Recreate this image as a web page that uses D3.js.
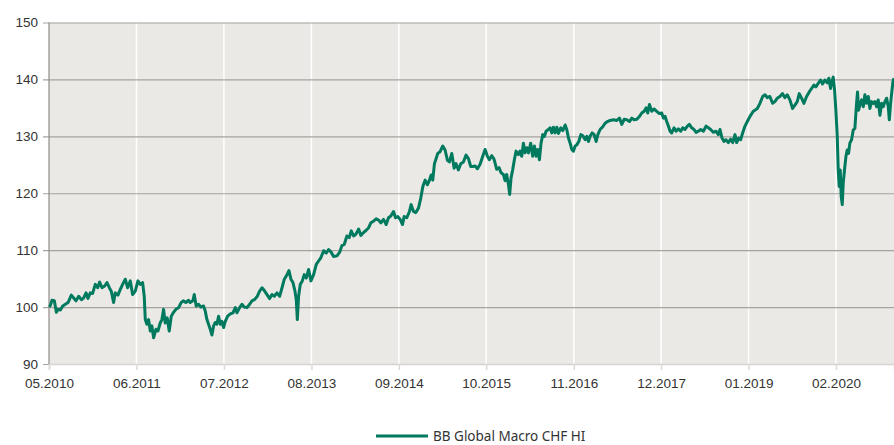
<!DOCTYPE html>
<html>
<head>
<meta charset="utf-8">
<script src="https://cdn.jsdelivr.net/npm/d3@7"></script>
<style>
  body { margin: 0; background: #fff; }
  svg { display: block; font-family: "Noto Sans", sans-serif; }
</style>
</head>
<body>
<svg id="chart" width="894" height="445"></svg>
<script>
// series: time as decimal year, index value
const times = [
  2010.333, 2010.346, 2010.366, 2010.395, 2010.420, 2010.441, 2010.470, 2010.499, 2010.532, 2010.565,
  2010.606, 2010.635, 2010.664, 2010.697, 2010.730, 2010.759, 2010.788, 2010.812, 2010.841, 2010.870,
  2010.903, 2010.932, 2010.957, 2010.986, 2011.019, 2011.048, 2011.077, 2011.101, 2011.130, 2011.151,
  2011.184, 2011.213, 2011.242, 2011.275, 2011.304, 2011.337, 2011.366, 2011.399, 2011.432, 2011.461,
  2011.490, 2011.510, 2011.523, 2011.543, 2011.564, 2011.585, 2011.605, 2011.626, 2011.655, 2011.680,
  2011.708, 2011.729, 2011.750, 2011.770, 2011.795, 2011.820, 2011.845, 2011.874, 2011.903, 2011.936,
  2011.969, 2011.998, 2012.026, 2012.060,
  2012.080, 2012.113, 2012.130, 2012.154, 2012.183, 2012.212, 2012.245, 2012.266, 2012.287, 2012.307,
  2012.328, 2012.349, 2012.369, 2012.390, 2012.410, 2012.431, 2012.452, 2012.472, 2012.493, 2012.514,
  2012.543, 2012.576, 2012.609, 2012.638, 2012.658, 2012.691, 2012.720, 2012.749, 2012.782, 2012.815,
  2012.844, 2012.873, 2012.906, 2012.939, 2012.968, 2012.997, 2013.030, 2013.063, 2013.092, 2013.121,
  2013.154, 2013.187, 2013.216, 2013.245, 2013.278, 2013.302, 2013.327, 2013.352, 2013.377, 2013.393,
  2013.406, 2013.422, 2013.443, 2013.468, 2013.492, 2013.517, 2013.546, 2013.575, 2013.608, 2013.641,
  2013.670, 2013.699, 2013.732, 2013.765, 2013.794, 2013.823, 2013.856,
  2013.897, 2013.930, 2013.959, 2013.988, 2014.021, 2014.050, 2014.075, 2014.104, 2014.132, 2014.166,
  2014.194, 2014.227, 2014.260, 2014.289, 2014.318, 2014.351, 2014.384, 2014.413, 2014.442, 2014.475,
  2014.508, 2014.537, 2014.566, 2014.599, 2014.624, 2014.653, 2014.682, 2014.711, 2014.731, 2014.764,
  2014.797, 2014.818, 2014.847, 2014.876, 2014.909, 2014.938, 2014.963, 2014.991, 2015.020, 2015.045,
  2015.066, 2015.086, 2015.107, 2015.128, 2015.148, 2015.177, 2015.210, 2015.239, 2015.268, 2015.293,
  2015.322, 2015.351, 2015.375, 2015.404, 2015.433, 2015.466, 2015.499, 2015.528, 2015.557,
  2015.582, 2015.611, 2015.640, 2015.673, 2015.706, 2015.735, 2015.764, 2015.788, 2015.817, 2015.846,
  2015.879, 2015.908, 2015.933, 2015.962, 2015.983, 2016.003, 2016.024, 2016.040, 2016.057, 2016.078,
  2016.098, 2016.119, 2016.148, 2016.168, 2016.189, 2016.210, 2016.230, 2016.251, 2016.272, 2016.300,
  2016.325, 2016.346, 2016.367, 2016.387, 2016.408, 2016.428, 2016.449, 2016.470, 2016.490, 2016.519,
  2016.540, 2016.561, 2016.581, 2016.602, 2016.623, 2016.643, 2016.672, 2016.697, 2016.726, 2016.746,
  2016.767, 2016.788, 2016.808, 2016.829, 2016.850, 2016.870, 2016.895, 2016.920, 2016.945, 2016.974,
  2016.994, 2017.015, 2017.035, 2017.060, 2017.085, 2017.110, 2017.131, 2017.159, 2017.192, 2017.221,
  2017.250, 2017.283, 2017.325,
  2017.366, 2017.399, 2017.428, 2017.457, 2017.490, 2017.523, 2017.552, 2017.581, 2017.614, 2017.647,
  2017.676, 2017.705, 2017.729, 2017.750, 2017.771, 2017.800, 2017.828, 2017.861, 2017.894, 2017.923,
  2017.944, 2017.965, 2017.985, 2018.006, 2018.027, 2018.047, 2018.076, 2018.101, 2018.130, 2018.159,
  2018.184, 2018.212, 2018.241, 2018.266, 2018.295, 2018.324, 2018.349, 2018.378, 2018.407, 2018.440,
  2018.473, 2018.502, 2018.530, 2018.563, 2018.597, 2018.625, 2018.646, 2018.671, 2018.696, 2018.720,
  2018.749, 2018.778, 2018.803, 2018.832, 2018.853, 2018.877, 2018.902, 2018.927, 2018.956, 2018.985,
  2019.018, 2019.059,
  2019.080, 2019.109, 2019.142, 2019.175, 2019.204, 2019.232, 2019.265, 2019.298, 2019.327, 2019.356,
  2019.389, 2019.422, 2019.451, 2019.480, 2019.513, 2019.546, 2019.575, 2019.604, 2019.629, 2019.658,
  2019.687, 2019.720, 2019.753, 2019.782, 2019.811, 2019.835, 2019.864, 2019.893, 2019.918, 2019.947,
  2019.976, 2019.996, 2020.017, 2020.033, 2020.050, 2020.067, 2020.083, 2020.100, 2020.112, 2020.124,
  2020.137, 2020.149, 2020.162, 2020.174, 2020.190, 2020.207, 2020.223, 2020.240, 2020.256, 2020.277,
  2020.298, 2020.318, 2020.339, 2020.351, 2020.364, 2020.380, 2020.401, 2020.422, 2020.442, 2020.463,
  2020.484, 2020.504, 2020.525, 2020.545, 2020.566, 2020.587, 2020.607, 2020.628, 2020.649, 2020.669,
  2020.690, 2020.711, 2020.731, 2020.744, 2020.760, 2020.777, 2020.789, 2020.802
];
const values = [
  100.0, 100.3, 101.2, 101.1, 99.1, 99.6, 99.5, 100.2, 100.5, 100.8,
  102.1, 101.6, 101.1, 101.9, 101.3, 101.6, 102.5, 101.5, 102.5, 102.4,
  104.0, 103.4, 104.4, 103.4, 103.7, 104.3, 103.4, 102.8, 100.8, 102.5,
  102.1, 103.1, 104.0, 104.9, 103.4, 104.6, 102.2, 102.8, 104.6, 104.0,
  104.3, 101.9, 97.8, 97.0, 97.8, 95.8, 96.7, 94.6, 96.1, 95.8,
  97.2, 97.8, 99.6, 97.2, 98.1, 95.8, 98.4, 99.1, 99.6, 99.9,
  100.8, 101.1, 100.8, 101.2,
  100.8, 101.1, 102.2, 100.2, 100.5, 100.0, 100.2, 99.3, 97.8, 97.0,
  96.1, 95.1, 96.7, 97.3, 97.0, 98.4, 97.0, 97.5, 96.4, 97.5,
  98.4, 98.8, 99.0, 99.9, 99.0, 99.9, 100.5, 100.0, 99.9, 100.5,
  101.1, 101.3, 101.8, 102.8, 103.4, 102.9, 102.2, 101.5, 102.2, 101.9,
  102.5, 101.9, 103.4, 104.9, 105.7, 106.4, 104.9, 104.3, 102.8, 101.3,
  97.8, 101.9, 104.0, 104.6, 105.7, 105.1, 106.6, 104.6, 105.7, 107.5,
  108.1, 108.7, 109.9, 109.5, 110.1, 109.7, 108.9,
  109.0, 109.6, 110.8, 111.0, 112.5, 112.2, 113.4, 112.5, 112.8, 113.7,
  112.6, 113.1, 113.5, 113.9, 114.8, 115.1, 115.5, 115.3, 114.8, 115.4,
  114.5, 115.7, 116.0, 116.8, 115.7, 115.9, 115.4, 114.5, 115.9, 115.7,
  116.8, 118.0, 116.8, 116.6, 117.4, 119.2, 121.2, 122.3, 121.5, 122.3,
  123.2, 122.3, 125.2, 126.1, 127.0, 127.3, 128.3, 127.6, 125.8, 125.5,
  127.0, 124.4, 125.2, 124.1, 125.2, 125.5, 126.7, 126.1, 124.7,
  124.7, 124.8, 124.3, 125.1, 126.5, 127.7, 126.5, 125.9, 126.6, 126.0,
  124.2, 124.5, 123.6, 123.3, 122.2, 123.3, 121.6, 119.8, 122.7, 124.2,
  125.9, 127.4, 126.8, 127.4, 126.5, 128.8, 127.1, 128.0, 127.1, 128.8,
  126.5, 128.3, 126.5, 127.7, 125.9, 128.8, 130.3, 130.0, 130.9, 131.2,
  131.5, 130.6, 131.6, 130.6, 131.6, 130.5, 131.5, 131.0, 132.0, 131.2,
  129.7, 128.8, 127.7, 127.4, 128.3, 128.5, 129.1, 130.3, 130.1, 129.4,
  130.0, 129.1, 130.0, 130.6, 130.3, 129.1, 130.3, 131.2, 131.7, 132.3,
  132.6, 132.8, 132.9,
  132.8, 133.2, 132.1, 133.0, 132.9, 132.6, 133.2, 132.9, 133.0, 133.5,
  134.1, 134.4, 135.0, 134.1, 135.6, 134.4, 134.8, 134.4, 134.0, 134.1,
  133.2, 133.5, 132.6, 131.8, 130.9, 130.6, 131.5, 130.9, 131.3, 130.9,
  131.5, 131.2, 131.8, 132.1, 131.5, 131.2, 130.7, 130.9, 131.2, 130.9,
  131.8, 131.5, 131.2, 130.7, 130.9, 130.3, 131.2, 129.7, 129.1, 129.4,
  128.9, 129.5, 128.9, 130.3, 128.9, 129.7, 129.4, 130.6, 131.8, 132.6,
  133.5, 134.4,
  134.6, 134.9, 135.8, 137.0, 137.3, 136.8, 137.0, 135.8, 136.1, 136.7,
  137.0, 137.5, 136.8, 137.3, 136.4, 134.9, 135.5, 136.1, 137.5, 136.7,
  135.8, 137.0, 137.8, 138.4, 139.0, 138.7, 139.3, 139.9, 139.2, 139.9,
  139.4, 140.2, 138.4, 139.6, 140.4, 138.1, 134.6, 130.0, 124.1, 121.2,
  124.1, 119.4, 118.0, 121.8, 124.1, 126.4, 127.6, 127.0, 128.8, 129.4,
  131.1, 131.4, 135.8, 137.8, 134.6, 135.5, 136.4, 135.2, 137.3, 135.8,
  137.0, 134.9, 136.1, 135.8, 136.1, 135.2, 136.4, 133.7, 135.8, 135.2,
  136.1, 136.7, 135.2, 132.9, 135.8, 138.1, 139.6, 140.2
];
const xTickLabels = ["05.2010", "06.2011", "07.2012", "08.2013", "09.2014",
                     "10.2015", "11.2016", "12.2017", "01.2019", "02.2020"];
const yTicks = [90, 100, 110, 120, 130, 140, 150];
const seriesName = "BB Global Macro CHF HI";

const width = 894, height = 445;
const margin = {top: 22.5, right: 0, bottom: 81, left: 49};
const innerW = width - margin.left - margin.right;
const innerH = height - margin.top - margin.bottom;
const lineColor = "#007a5e";

function decToDate(t) {
  const y = Math.floor(t);
  const a = new Date(y, 0, 1), b = new Date(y + 1, 0, 1);
  return new Date(+a + (t - y) * (b - a));
}
const parseTick = d3.timeParse("%m.%Y");
const tickDates = xTickLabels.map(parseTick);
const data = times.map((t, i) => ({date: decToDate(t), value: values[i]}));

const svg = d3.select("#chart");
const g = svg.append("g").attr("transform", `translate(${margin.left},${margin.top})`);

const x = d3.scaleTime()
  .domain([tickDates[0], data[data.length - 1].date])
  .range([0, innerW]);
const y = d3.scaleLinear().domain([90, 150]).range([innerH, 0]);

// plot background
g.append("rect")
  .attr("width", innerW).attr("height", innerH)
  .attr("fill", "#ebe9e5");

// vertical white gridlines
g.append("g")
  .selectAll("line")
  .data(tickDates.slice(1))
  .join("line")
  .attr("x1", d => x(d)).attr("x2", d => x(d))
  .attr("y1", 0).attr("y2", innerH)
  .attr("stroke", "#fff").attr("stroke-width", 1.5);

// horizontal gridlines + y labels
const yAxis = g.append("g")
  .call(d3.axisLeft(y).tickValues(yTicks).tickSize(-innerW).tickPadding(11));
yAxis.select(".domain").remove();
yAxis.selectAll(".tick line")
  .attr("stroke", "#a5a39f").attr("stroke-width", 1.2)
  .attr("x1", -6);
yAxis.selectAll(".tick text")
  .attr("fill", "#333").style("font-size", "13.5px");

// x axis
const xAxis = g.append("g")
  .attr("transform", `translate(0,${innerH})`)
  .call(d3.axisBottom(x).tickValues(tickDates)
    .tickFormat((d, i) => xTickLabels[i]).tickSize(6).tickPadding(8));
xAxis.select(".domain").attr("stroke", "#d6d4d0").attr("stroke-width", 1.5);
xAxis.selectAll(".tick line").attr("stroke", "#dcdad6").attr("stroke-width", 1.5);
xAxis.selectAll(".tick text").attr("fill", "#333").style("font-size", "13.5px");

// left axis line
g.append("line")
  .attr("x1", 0).attr("x2", 0).attr("y1", 0).attr("y2", innerH)
  .attr("stroke", "#8f8d89").attr("stroke-width", 1.2);

// the series
g.append("path")
  .datum(data)
  .attr("fill", "none")
  .attr("stroke", lineColor)
  .attr("stroke-width", 3)
  .attr("stroke-linejoin", "round")
  .attr("d", d3.line().x(d => x(d.date)).y(d => y(d.value)));

// legend
const legend = svg.append("g").attr("transform", "translate(376,436)");
legend.append("line")
  .attr("x1", 0).attr("x2", 52)
  .attr("stroke", lineColor).attr("stroke-width", 3);
legend.append("text")
  .attr("x", 57).attr("dy", "0.35em")
  .attr("fill", "#333").style("font-size", "13.5px")
  .text(seriesName);
</script>
</body>
</html>
